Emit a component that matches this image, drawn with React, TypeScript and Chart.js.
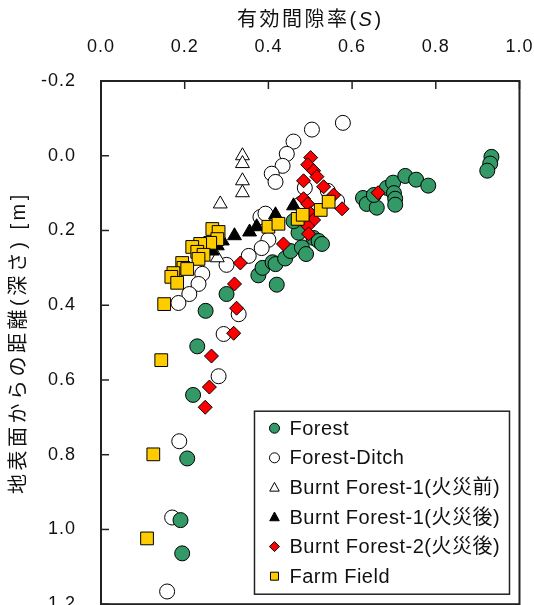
import React, { useEffect, useRef } from 'react';
import { Chart, registerables } from 'chart.js';

Chart.register(...registerables);

const FONT = "'Liberation Sans', Arial, 'Noto Sans CJK JP', sans-serif";

const xTickValues = [0, 0.2, 0.4, 0.6, 0.8, 1.0];
const yTickValues = [-0.2, 0, 0.2, 0.4, 0.6, 0.8, 1.0, 1.2];

const xTitleParts = ['有効間隙率(', 'S', ')'];
const yTitle = '地表面からの距離(深さ) [m]';

const seriesLabels = [
  'Forest',
  'Forest-Ditch',
  'Burnt Forest-1(火災前)',
  'Burnt Forest-1(火災後)',
  'Burnt Forest-2(火災後)',
  'Farm Field',
];

// Forest
const forestS = [0.22, 0.23, 0.25, 0.30, 0.376, 0.386, 0.42, 0.41, 0.417, 0.44, 0.453, 0.48, 0.49, 0.508, 0.52, 0.528, 0.472, 0.46,
  0.206, 0.19, 0.194,
  0.626, 0.635, 0.659, 0.652, 0.683, 0.698, 0.727, 0.753, 0.782, 0.70, 0.703, 0.703,
  0.933, 0.93, 0.923];
const forestD = [0.64, 0.51, 0.415, 0.37, 0.32, 0.30, 0.345, 0.285, 0.29, 0.275, 0.255, 0.245, 0.263, 0.22, 0.228, 0.236, 0.206, 0.175,
  0.81, 0.975, 1.064,
  0.113, 0.129, 0.139, 0.105, 0.086, 0.072, 0.054, 0.064, 0.080, 0.10, 0.115, 0.131,
  0.003, 0.021, 0.04];

// Forest-Ditch
const ditchS = [0.578, 0.504, 0.46, 0.444, 0.434, 0.408, 0.417, 0.487, 0.542, 0.564, 0.477, 0.381, 0.393, 0.40, 0.384, 0.353, 0.30,
  0.242, 0.233, 0.211, 0.185, 0.329, 0.293, 0.281, 0.187, 0.17, 0.158];
const ditchD = [-0.088, -0.07, -0.038, -0.005, 0.027, 0.048, 0.07, 0.086, 0.094, 0.121, 0.129, 0.164, 0.155, 0.225, 0.247, 0.268, 0.292,
  0.316, 0.343, 0.37, 0.394, 0.424, 0.477, 0.59, 0.764, 0.968, 1.166];

// Burnt Forest-1 (before fire)
const bf1PreS = [0.338, 0.338, 0.338, 0.338, 0.285, 0.278];
const bf1PreD = [0.0, 0.021, 0.067, 0.099, 0.129, 0.273];

// Burnt Forest-1 (after fire)
const bf1PostS = [0.266, 0.278, 0.29, 0.319, 0.355, 0.372, 0.417, 0.46];
const bf1PostD = [0.255, 0.241, 0.228, 0.214, 0.204, 0.19, 0.158, 0.134];

// Burnt Forest-2 (after fire)
const bf2S = [0.501, 0.494, 0.508, 0.516, 0.484, 0.532, 0.556, 0.576, 0.662, 0.484, 0.494, 0.501, 0.508, 0.494, 0.496, 0.436, 0.333,
  0.319, 0.324, 0.317, 0.264, 0.259, 0.249];
const bf2D = [0.005, 0.024, 0.04, 0.056, 0.067, 0.083, 0.105, 0.142, 0.099, 0.115, 0.129, 0.155, 0.172, 0.188, 0.209, 0.236, 0.287,
  0.343, 0.408, 0.475, 0.536, 0.619, 0.673];

// Farm Field
const farmS = [0.266, 0.281, 0.278, 0.261, 0.237, 0.218, 0.23, 0.245, 0.233, 0.194, 0.197, 0.206, 0.173, 0.168, 0.182, 0.151, 0.144,
  0.125, 0.11, 0.40, 0.424, 0.47, 0.482, 0.525, 0.544];
const farmD = [0.196, 0.204, 0.223, 0.233, 0.236, 0.244, 0.257, 0.265, 0.276, 0.287, 0.30, 0.303, 0.314, 0.324, 0.34, 0.397, 0.547,
  0.799, 1.024, 0.19, 0.182, 0.169, 0.158, 0.145, 0.123];

const GREEN = '#339966';
const YELLOW = '#FFCC00';
const RED = '#FF0000';

const pts = (s: number[], d: number[]) => s.map((v, i) => ({ x: v, y: d[i] }));

type MarkerKind = 'circle' | 'triangle' | 'rectRot' | 'rect';
const legendMarkers: { kind: MarkerKind; fill: string }[] = [
  { kind: 'circle', fill: GREEN },
  { kind: 'circle', fill: '#ffffff' },
  { kind: 'triangle', fill: '#ffffff' },
  { kind: 'triangle', fill: '#000000' },
  { kind: 'rectRot', fill: RED },
  { kind: 'rect', fill: YELLOW },
];

function drawMarker(ctx: CanvasRenderingContext2D, kind: MarkerKind, x: number, y: number, r: number, fill: string) {
  ctx.beginPath();
  if (kind === 'circle') {
    ctx.arc(x, y, r, 0, Math.PI * 2);
  } else if (kind === 'triangle') {
    ctx.moveTo(x, y - r);
    ctx.lineTo(x + r * 0.95, y + r * 0.75);
    ctx.lineTo(x - r * 0.95, y + r * 0.75);
    ctx.closePath();
  } else if (kind === 'rectRot') {
    ctx.moveTo(x, y - r);
    ctx.lineTo(x + r, y);
    ctx.lineTo(x, y + r);
    ctx.lineTo(x - r, y);
    ctx.closePath();
  } else {
    ctx.rect(x - r * 0.8, y - r * 0.8, r * 1.6, r * 1.6);
  }
  ctx.fillStyle = fill;
  ctx.fill();
  ctx.lineWidth = 1;
  ctx.strokeStyle = '#000';
  ctx.stroke();
}

const fmt = (v: number) => (Math.abs(v) < 1e-9 ? '0.0' : Number(v).toFixed(1));

const decorPlugin = {
  id: 'decor',
  beforeDraw(chart: any) {
    (chart.ctx as any).letterSpacing = '1px';
  },
  afterDraw(chart: any) {
    const { ctx, chartArea } = chart;
    const { left, top, right, bottom } = chartArea;
    const xs = chart.scales.x;
    const ys = chart.scales.y;
    ctx.save();
    (ctx as any).letterSpacing = '0px';
    // inward ticks
    ctx.strokeStyle = '#222';
    ctx.lineWidth = 1.5;
    xTickValues.forEach((v) => {
      const px = xs.getPixelForValue(v);
      ctx.beginPath();
      ctx.moveTo(px, top);
      ctx.lineTo(px, top + 8);
      ctx.stroke();
    });
    yTickValues.forEach((v) => {
      const py = ys.getPixelForValue(v);
      ctx.beginPath();
      ctx.moveTo(left, py);
      ctx.lineTo(left + 8, py);
      ctx.stroke();
    });
    // frame
    ctx.lineWidth = 2;
    ctx.strokeRect(left, top, right - left, bottom - top);

    // x-axis title with italic S
    const tSize = 20;
    (ctx as any).letterSpacing = '2.5px';
    const fonts = [`${tSize}px ${FONT}`, `italic ${tSize}px ${FONT}`, `${tSize}px ${FONT}`];
    let total = 0;
    const widths = xTitleParts.map((t, i) => {
      ctx.font = fonts[i];
      const w = ctx.measureText(t).width;
      total += w;
      return w;
    });
    let cx = (left + right) / 2 - total / 2;
    ctx.fillStyle = '#111';
    ctx.textBaseline = 'middle';
    ctx.textAlign = 'left';
    xTitleParts.forEach((t, i) => {
      ctx.font = fonts[i];
      ctx.fillText(t, cx, 20);
      cx += widths[i];
    });

    // y-axis title (rotated)
    ctx.save();
    (ctx as any).letterSpacing = '3.5px';
    ctx.font = `20px ${FONT}`;
    ctx.translate(19, (top + bottom) / 2);
    ctx.rotate(-Math.PI / 2);
    ctx.textAlign = 'center';
    ctx.textBaseline = 'middle';
    ctx.fillStyle = '#111';
    ctx.fillText(yTitle, 0, 0);
    ctx.restore();

    // legend
    (ctx as any).letterSpacing = '0.5px';
    const bx = right - 265;
    const by = bottom - 193;
    const bw = 255;
    const bh = 183;
    ctx.fillStyle = '#fff';
    ctx.fillRect(bx, by, bw, bh);
    ctx.lineWidth = 1.5;
    ctx.strokeStyle = '#222';
    ctx.strokeRect(bx, by, bw, bh);
    ctx.font = `20px ${FONT}`;
    ctx.textAlign = 'left';
    seriesLabels.forEach((lab, i) => {
      const yy = by + 17 + i * 29.6;
      const m = legendMarkers[i];
      drawMarker(ctx, m.kind, bx + 20, yy, 5, m.fill);
      ctx.fillStyle = '#111';
      ctx.textBaseline = 'middle';
      ctx.fillText(lab, bx + 35, yy + 1);
    });
    ctx.restore();
    (ctx as any).letterSpacing = '0px';
  },
};

export default function App() {
  const ref = useRef<HTMLCanvasElement | null>(null);

  useEffect(() => {
    if (!ref.current) return;
    const chart = new Chart(ref.current, {
      type: 'scatter',
      data: {
        datasets: [
          {
            label: seriesLabels[0],
            data: pts(forestS, forestD),
            pointStyle: 'circle',
            pointRadius: 7.5,
            backgroundColor: GREEN,
            borderColor: '#000',
            borderWidth: 1,
            order: 4,
          },
          {
            label: seriesLabels[1],
            data: pts(ditchS, ditchD),
            pointStyle: 'circle',
            pointRadius: 7.5,
            backgroundColor: '#fff',
            borderColor: '#000',
            borderWidth: 1,
            order: 5,
          },
          {
            label: seriesLabels[2],
            data: pts(bf1PreS, bf1PreD),
            pointStyle: 'triangle',
            pointRadius: 8,
            backgroundColor: '#fff',
            borderColor: '#000',
            borderWidth: 1,
            order: 3,
          },
          {
            label: seriesLabels[3],
            data: pts(bf1PostS, bf1PostD),
            pointStyle: 'triangle',
            pointRadius: 8,
            backgroundColor: '#000',
            borderColor: '#000',
            borderWidth: 1,
            order: 2,
          },
          {
            label: seriesLabels[4],
            data: pts(bf2S, bf2D),
            pointStyle: 'rectRot',
            pointRadius: 7,
            backgroundColor: RED,
            borderColor: '#000',
            borderWidth: 1,
            order: 1,
          },
          {
            label: seriesLabels[5],
            data: pts(farmS, farmD),
            pointStyle: 'rect',
            pointRadius: 9,
            backgroundColor: YELLOW,
            borderColor: '#000',
            borderWidth: 1,
            order: 0,
          },
        ],
      },
      options: {
        responsive: false,
        animation: false,
        devicePixelRatio: 1,
        layout: { padding: { left: 0, top: 0, right: 16, bottom: 22 } },
        plugins: {
          legend: { display: false },
          tooltip: { enabled: false },
        },
        scales: {
          x: {
            type: 'linear',
            position: 'top',
            min: 0,
            max: 1,
            grid: { display: false, drawTicks: false },
            border: { display: false },
            ticks: {
              stepSize: 0.2,
              padding: 23,
              color: '#111',
              font: { family: FONT, size: 18 },
              callback: (v: any) => fmt(Number(v)),
            },
            afterFit: (s: any) => {
              s.height = 81;
            },
          },
          y: {
            type: 'linear',
            position: 'left',
            reverse: true,
            min: -0.2,
            max: 1.2,
            grid: { display: false, drawTicks: false },
            border: { display: false },
            ticks: {
              stepSize: 0.2,
              padding: 25,
              color: '#111',
              font: { family: FONT, size: 18 },
              callback: (v: any) => fmt(Number(v)),
            },
            afterFit: (s: any) => {
              s.width = 101;
            },
          },
        },
      },
      plugins: [decorPlugin],
    });
    return () => chart.destroy();
  }, []);

  return (
    <div style={{ position: 'fixed', left: 0, top: 0, width: 534, height: 605, overflow: 'hidden', background: '#fff' }}>
      <canvas ref={ref} width={555} height={640} style={{ display: 'block', width: 555, height: 640 }} />
    </div>
  );
}
